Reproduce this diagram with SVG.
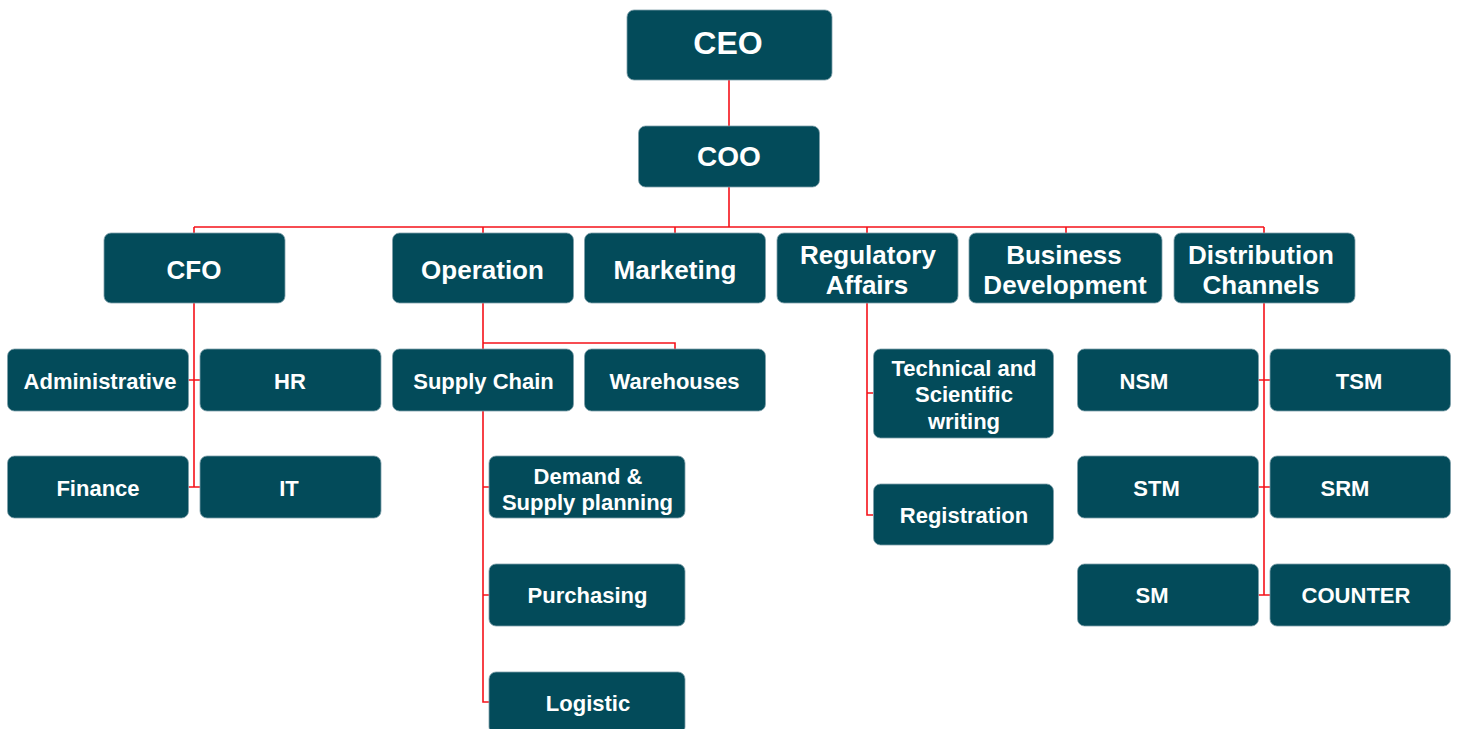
<svg xmlns="http://www.w3.org/2000/svg" width="1457" height="729" viewBox="0 0 1457 729">
<style>
.b{fill:#034B5A;stroke:#7FA0AA;stroke-width:0.8}
.t{fill:#fff;font-family:"Liberation Sans",Arial,sans-serif;font-weight:bold;text-anchor:middle}
.l1{font-size:32px}.l2{font-size:28px}.l3{font-size:26px}.l4{font-size:22px}
.c{fill:none;stroke:#F5121A;stroke-width:1.6}
</style>
<rect width="1457" height="729" fill="#fff"/>
<g id="connectors" class="c">
<path d="M729 80V126M729 187V227M194 227H1264M194 227V233M483 227V233M675 227V233M867 227V233M1066 227V233M1264 227V233"/>
<path d="M194 303V487M188 380H200M188 487H200"/>
<path d="M483 303V349M483 343H675V349M483 411V702H489M483 487H489M483 595H489"/>
<path d="M867 303V515H873M867 393H873"/>
<path d="M1264 303V595M1258 380H1270M1258 487H1270M1258 595H1270"/>
</g>
<g id="ceo"><rect class="b" x="627" y="10" width="205" height="70" rx="7"/><text class="t l1" x="728" y="54">CEO</text></g>
<g id="coo"><rect class="b" x="638.5" y="126" width="181" height="61" rx="7"/><text class="t l2" x="729" y="165.5">COO</text></g>
<g id="cfo"><rect class="b" x="104" y="233" width="181" height="70" rx="7"/><text class="t l3" x="194" y="279.3">CFO</text></g>
<g id="operation"><rect class="b" x="392.5" y="233" width="181" height="70" rx="7"/><text class="t l3" x="482.5" y="279.3">Operation</text></g>
<g id="marketing"><rect class="b" x="584.5" y="233" width="181" height="70" rx="7"/><text class="t l3" x="675" y="279.3">Marketing</text></g>
<g id="regulatory"><rect class="b" x="777" y="233" width="181" height="70" rx="7"/><text class="t l3" x="868" y="264.3">Regulatory</text><text class="t l3" x="867" y="294.3">Affairs</text></g>
<g id="business"><rect class="b" x="969" y="233" width="193" height="70" rx="7"/><text class="t l3" x="1064" y="264.3">Business</text><text class="t l3" x="1065" y="294.3">Development</text></g>
<g id="distribution"><rect class="b" x="1174" y="233" width="181" height="70" rx="7"/><text class="t l3" x="1261" y="264.3">Distribution</text><text class="t l3" x="1261" y="294.3">Channels</text></g>
<g id="administrative"><rect class="b" x="7.5" y="349" width="181" height="62" rx="7"/><text class="t l4" x="100" y="388.5">Administrative</text></g>
<g id="hr"><rect class="b" x="200" y="349" width="181" height="62" rx="7"/><text class="t l4" x="290" y="388.5">HR</text></g>
<g id="finance"><rect class="b" x="7.5" y="456" width="181" height="62" rx="7"/><text class="t l4" x="98" y="495.5">Finance</text></g>
<g id="it"><rect class="b" x="200" y="456" width="181" height="62" rx="7"/><text class="t l4" x="289" y="495.5">IT</text></g>
<g id="supplychain"><rect class="b" x="392.5" y="349" width="181" height="62" rx="7"/><text class="t l4" x="483.5" y="388.5">Supply Chain</text></g>
<g id="warehouses"><rect class="b" x="584.5" y="349" width="181" height="62" rx="7"/><text class="t l4" x="674.5" y="388.5">Warehouses</text></g>
<g id="demand"><rect class="b" x="489" y="456" width="196" height="62" rx="7"/><text class="t l4" x="588" y="483.5">Demand &amp;</text><text class="t l4" x="587.5" y="510">Supply planning</text></g>
<g id="purchasing"><rect class="b" x="489" y="564" width="196" height="62" rx="7"/><text class="t l4" x="587.5" y="603">Purchasing</text></g>
<g id="logistic"><rect class="b" x="489" y="672" width="196" height="62" rx="7"/><text class="t l4" x="588" y="711">Logistic</text></g>
<g id="technical"><rect class="b" x="873.5" y="349" width="180" height="89" rx="7"/><text class="t l4" x="964" y="375.5">Technical and</text><text class="t l4" x="964" y="402">Scientific</text><text class="t l4" x="964" y="428.7">writing</text></g>
<g id="registration"><rect class="b" x="873.5" y="484" width="180" height="61" rx="7"/><text class="t l4" x="964" y="522.5">Registration</text></g>
<g id="nsm"><rect class="b" x="1077.5" y="349" width="181" height="62" rx="7"/><text class="t l4" x="1144" y="388.5">NSM</text></g>
<g id="tsm"><rect class="b" x="1270" y="349" width="180.5" height="62" rx="7"/><text class="t l4" x="1359" y="388.5">TSM</text></g>
<g id="stm"><rect class="b" x="1077.5" y="456" width="181" height="62" rx="7"/><text class="t l4" x="1156.5" y="495.5">STM</text></g>
<g id="srm"><rect class="b" x="1270" y="456" width="180.5" height="62" rx="7"/><text class="t l4" x="1345" y="495.5">SRM</text></g>
<g id="sm"><rect class="b" x="1077.5" y="564" width="181" height="62" rx="7"/><text class="t l4" x="1152" y="603">SM</text></g>
<g id="counter"><rect class="b" x="1270" y="564" width="180.5" height="62" rx="7"/><text class="t l4" x="1356" y="603">COUNTER</text></g>
</svg>
